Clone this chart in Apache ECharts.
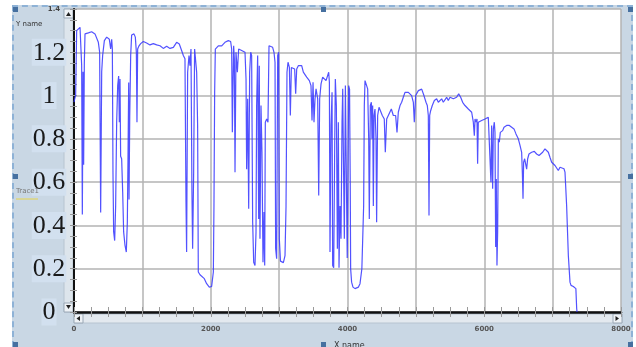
<!DOCTYPE html>
<html><head><meta charset="utf-8">
<script src="https://cdn.jsdelivr.net/npm/echarts@6/dist/echarts.min.js"></script>
<style>
html,body{margin:0;padding:0;background:#fff;width:636px;height:347px;overflow:hidden;}
#frame{position:absolute;left:12px;top:5px;width:617px;height:340px;background:#c9d7e4;border:2px dashed #8eb2d6;border-bottom:none;}
#chart{position:absolute;left:0;top:0;width:636px;height:347px;}
</style></head><body>
<div id="frame"></div><div id="chart"></div>
<script>
const xValues = [0,15,24,39,55,68,88,102,112,122,132,141,151,161,210,258,307,356,375,390,405,419,444,478,517,536,551,561,570,580,595,609,624,639,653,663,673,682,697,712,726,746,765,780,790,800,805,815,829,843,877,897,912,921,931,951,975,1014,1062,1111,1160,1209,1258,1306,1355,1404,1453,1501,1540,1574,1599,1623,1638,1647,1662,1682,1696,1711,1725,1735,1750,1764,1779,1794,1808,1818,1843,1872,1906,1940,1979,2013,2038,2047,2057,2067,2087,2111,2160,2208,2257,2291,2306,2316,2325,2335,2345,2355,2369,2389,2408,2452,2501,2516,2525,2540,2555,2569,2584,2598,2613,2628,2647,2662,2671,2686,2701,2710,2720,2735,2749,2764,2779,2789,2798,2818,2837,2852,2876,2905,2925,2940,2949,2964,2979,2993,3003,3020,3040,3062,3086,3101,3115,3130,3150,3164,3179,3208,3227,3242,3257,3281,3306,3330,3354,3403,3442,3466,3481,3496,3510,3525,3540,3564,3579,3593,3613,3637,3661,3686,3705,3725,3735,3744,3759,3774,3783,3798,3813,3822,3837,3852,3866,3876,3891,3905,3920,3930,3939,3954,3969,3988,3996,4003,4017,4030,4040,4046,4060,4080,4110,4134,4160,4183,4210,4236,4246,4256,4280,4295,4310,4319,4334,4349,4358,4368,4378,4388,4402,4417,4426,4441,4461,4485,4509,4538,4553,4573,4602,4641,4670,4704,4724,4743,4768,4792,4816,4841,4865,4890,4914,4938,4963,4977,4997,5036,5060,5085,5118,5148,5167,5182,5192,5202,5216,5240,5270,5304,5328,5353,5377,5401,5426,5450,5474,5499,5523,5548,5572,5596,5626,5655,5684,5718,5767,5792,5816,5840,5855,5865,5879,5894,5903,5913,5938,5962,5986,6011,6035,6059,6084,6098,6108,6123,6133,6147,6157,6167,6176,6186,6196,6206,6220,6235,6254,6269,6289,6328,6367,6401,6435,6464,6498,6523,6547,6557,6567,6576,6591,6606,6620,6635,6654,6693,6732,6766,6801,6830,6854,6888,6913,6937,6961,6986,7010,7035,7059,7083,7108,7132,7166,7181,7205,7230,7254,7269,7303,7327,7340,7352,7357];
const yValues = [0.97,0.99,1.0,1.30,1.30,1.305,1.315,1.31,1.14,0.45,1.11,0.68,1.15,1.285,1.29,1.295,1.285,1.246,1.2,0.46,1.11,1.185,1.254,1.27,1.26,1.215,1.26,1.215,0.646,0.37,0.33,0.49,0.877,1.046,1.09,0.877,1.077,0.72,0.708,0.554,0.37,0.308,0.277,0.415,0.72,1.06,0.52,0.9,1.185,1.28,1.285,1.27,1.2,0.877,1.215,1.23,1.24,1.25,1.243,1.234,1.24,1.234,1.23,1.218,1.228,1.218,1.223,1.246,1.238,1.208,1.185,1.17,0.508,0.277,1.108,1.185,1.138,1.215,0.554,0.292,0.646,1.215,1.223,1.108,0.862,0.185,0.172,0.177,0.154,0.131,0.115,0.118,0.185,0.49,1.015,1.215,1.215,1.23,1.23,1.246,1.254,1.25,1.215,0.83,1.046,1.23,1.17,0.646,1.2,1.108,1.215,1.208,1.2,1.077,0.66,0.985,0.477,1.108,1.2,1.185,0.415,0.23,0.215,0.369,0.954,1.185,0.43,1.138,0.338,0.954,0.738,0.23,0.462,0.215,0.877,0.892,0.877,1.23,1.234,1.223,1.2,1.154,0.292,0.246,1.185,1.2,0.338,0.235,0.228,0.228,0.26,0.49,1.108,1.154,1.13,0.908,1.13,1.126,1.123,1.008,1.123,1.138,1.141,1.138,1.108,1.085,1.069,1.046,0.885,1.062,0.877,0.985,1.031,0.985,0.538,0.985,1.054,1.085,1.092,1.069,1.062,1.108,1.062,0.277,0.862,1.015,0.215,0.205,0.77,1.077,0.954,0.292,0.877,0.205,0.49,0.338,0.877,1.031,0.754,0.338,1.046,1.046,0.25,0.462,1.046,1.03,0.6,0.2,0.138,0.115,0.108,0.105,0.115,0.131,0.2,0.49,0.954,1.069,1.062,1.031,0.8,0.43,0.954,0.969,0.8,0.954,0.49,0.908,0.938,0.8,0.415,0.908,0.946,0.954,0.908,0.892,0.738,0.892,0.9,0.938,0.908,0.908,0.83,0.923,0.954,0.969,0.992,1.015,1.008,1.015,1.008,1.0,0.969,0.877,1.0,1.023,1.023,1.03,1.0,0.969,0.954,0.908,0.446,0.908,0.93,0.954,0.977,0.985,0.969,0.977,0.985,0.969,0.977,0.992,0.977,0.992,1.0,0.985,0.977,0.992,1.008,0.992,0.969,0.954,0.938,0.93,0.923,0.877,0.815,0.892,0.877,0.892,0.685,0.877,0.869,0.885,0.877,0.892,0.892,0.9,0.892,0.6,0.862,0.57,0.846,0.877,0.83,0.3,0.615,0.215,0.37,0.8,0.785,0.83,0.838,0.838,0.854,0.862,0.862,0.854,0.846,0.823,0.8,0.77,0.738,0.646,0.523,0.692,0.708,0.7,0.66,0.708,0.73,0.738,0.742,0.73,0.723,0.723,0.738,0.754,0.75,0.738,0.715,0.692,0.692,0.677,0.669,0.654,0.669,0.662,0.662,0.646,0.49,0.26,0.138,0.123,0.118,0.11,0.108,0.015,0];
const xTickLabels = ['0','2000','4000','6000','8000'];
const yTickLabels = ['0','0.2','0.4','0.6','0.8','1','1.2','1.4'];

const chart = echarts.init(document.getElementById('chart'), null, {renderer:'canvas'});
const tickStyle = {color:'#9a9a9a', width:1};
const option = {
  animation:false,
  backgroundColor:'transparent',
  grid:{left:74, right:15, top:9, bottom:35, show:true, backgroundColor:'#ffffff', borderWidth:0},
  xAxis:[{
    type:'value', min:0, max:8000, interval:1000, position:'bottom',
    axisLine:{show:true, onZero:false, lineStyle:{color:'#111', width:2.5}},
    axisTick:{show:true, inside:true, length:5, lineStyle:tickStyle},
    minorTick:{show:true, splitNumber:4, length:5, lineStyle:tickStyle},
    splitLine:{show:true, lineStyle:{color:'#b3b3b3', width:1.5}},
    axisLabel:{margin:14, fontSize:7, fontWeight:'bold', color:'#555', fontFamily:'DejaVu Sans',
      formatter:function(v){ return (v % 2000 === 0) ? xTickLabels[v/2000] : ''; }}
  },{
    type:'value', min:0, max:8000, interval:1000, position:'top',
    axisLine:{show:false},
    axisTick:{show:true, inside:true, length:5, lineStyle:tickStyle},
    minorTick:{show:true, splitNumber:4, length:5, lineStyle:tickStyle},
    splitLine:{show:false}, axisLabel:{show:false}
  }],
  yAxis:[{
    type:'value', min:0, max:1.4, interval:0.2, position:'left',
    axisLine:{show:true, lineStyle:{color:'#b0b0b0', width:1}},
    axisTick:{show:true, inside:true, length:3, lineStyle:tickStyle},
    minorTick:{show:true, splitNumber:4, length:3, lineStyle:tickStyle},
    splitLine:{show:true, lineStyle:{color:'#b3b3b3', width:1.5}},
    axisLabel:{margin:25, align:'center',
      formatter:function(v, i){ const t = yTickLabels[i]; return i === 7 ? '{s|' + t + '}' : '{b|' + t + '}'; },
      rich:{
        b:{fontFamily:'Liberation Serif', fontSize:26, color:'#1a1a1a', backgroundColor:'#d2e0ef', padding:[1,1,0,1], lineHeight:26},
        s:{fontFamily:'DejaVu Sans', fontSize:7, fontWeight:'bold', color:'#444', padding:[0,0,0,10]}
      }}
  },{
    type:'value', min:0, max:1.4, interval:0.2, position:'right',
    axisLine:{show:true, lineStyle:{color:'#111', width:2}},
    axisTick:{show:true, inside:true, length:4, lineStyle:tickStyle},
    minorTick:{show:true, splitNumber:4, length:4, lineStyle:tickStyle},
    splitLine:{show:false}, axisLabel:{show:false}
  }],
  series:[{
    type:'line', xAxisIndex:0, yAxisIndex:0, showSymbol:false, symbol:'none',
    data:xValues.map(function(x,i){ return [x, yValues[i]]; }),
    lineStyle:{color:'#3434ff', width:1.2, opacity:0.85}
  }],
  graphic:[
    {type:'rect', shape:{x:64,y:9,width:9,height:303}, style:{fill:'#dde5ec', stroke:'#b7c4d0', lineWidth:1}},
    {type:'rect', shape:{x:64,y:9,width:9,height:9}, style:{fill:'#eef2f6', stroke:'#9aa8b6', lineWidth:1}},
    {type:'polygon', shape:{points:[[66,16],[71,16],[68.5,12]]}, style:{fill:'#222'}},
    {type:'rect', shape:{x:64,y:303,width:9,height:9}, style:{fill:'#eef2f6', stroke:'#9aa8b6', lineWidth:1}},
    {type:'polygon', shape:{points:[[66,305],[71,305],[68.5,309]]}, style:{fill:'#222'}},
    {type:'rect', shape:{x:74,y:314,width:548,height:9}, style:{fill:'#e3e9ef', stroke:'#b7c4d0', lineWidth:1}},
    {type:'rect', shape:{x:74,y:314,width:9,height:9}, style:{fill:'#eef2f6', stroke:'#9aa8b6', lineWidth:1}},
    {type:'polygon', shape:{points:[[80,316],[80,321],[76.5,318.5]]}, style:{fill:'#222'}},
    {type:'rect', shape:{x:613,y:314,width:9,height:9}, style:{fill:'#eef2f6', stroke:'#9aa8b6', lineWidth:1}},
    {type:'polygon', shape:{points:[[615.5,316],[615.5,321],[619,318.5]]}, style:{fill:'#222'}},
    {type:'rect', z:100, shape:{x:13,y:7,width:5,height:5}, style:{fill:'#4670a0'}},
    {type:'rect', z:100, shape:{x:321,y:7,width:5,height:5}, style:{fill:'#4670a0'}},
    {type:'rect', z:100, shape:{x:628,y:7,width:5,height:5}, style:{fill:'#4670a0'}},
    {type:'rect', z:100, shape:{x:13,y:174,width:5,height:5}, style:{fill:'#4670a0'}},
    {type:'rect', z:100, shape:{x:628,y:174,width:5,height:5}, style:{fill:'#4670a0'}},
    {type:'rect', z:100, shape:{x:13,y:342,width:5,height:5}, style:{fill:'#4670a0'}},
    {type:'rect', z:100, shape:{x:321,y:342,width:5,height:5}, style:{fill:'#4670a0'}},
    {type:'rect', z:100, shape:{x:628,y:342,width:5,height:5}, style:{fill:'#4670a0'}},
    {type:'text', z:100, x:16, y:24, style:{text:'Y name', fontSize:7, fill:'#333', fontFamily:'DejaVu Sans', verticalAlign:'middle'}},
    {type:'text', z:100, x:16, y:191, style:{text:'Trace1', fontSize:7, fill:'#777', fontFamily:'DejaVu Sans', verticalAlign:'middle'}},
    {type:'line', z:100, shape:{x1:16,y1:199,x2:38,y2:199}, style:{stroke:'#e6d44a', lineWidth:1}},
    {type:'text', z:100, x:334, y:346, style:{text:'X name', fontSize:8, fill:'#333', fontFamily:'DejaVu Sans', verticalAlign:'middle'}}
  ]
};
chart.setOption(option);
</script>
</body></html>
